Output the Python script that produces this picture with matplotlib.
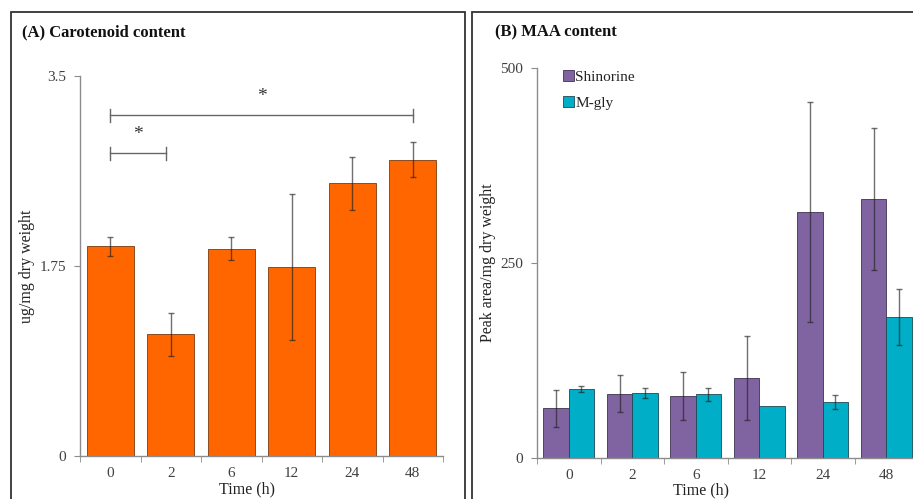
import matplotlib.pyplot as plt
from matplotlib.patches import Rectangle
import numpy as np

times = ["0", "2", "6", "12", "24", "48"]

carotenoid = [1.93, 1.12, 1.91, 1.74, 2.51, 2.73]
carotenoid_err = [0.085, 0.20, 0.105, 0.67, 0.245, 0.16]

shinorine = [63.7, 82.4, 79.5, 102.1, 315.4, 332.0]
shinorine_err = [23.5, 24.0, 31.0, 54.0, 141.6, 91.0]
mgly = [88.0, 83.8, 81.6, 66.2, 71.8, 180.8]
mgly_err = [3.7, 6.5, 8.5, 0.0, 8.5, 36.5]

# significance brackets: (start, end, bracket height, label)
brackets = [(0, 5, 3.14, "*"), (0, 0.92, 2.79, "*")]

plt.rcParams['font.family'] = ['Liberation Serif', 'DejaVu Serif']
txt = '#404040'
spine = '#8c8c8c'

fig = plt.figure(figsize=(9.13, 4.99), dpi=100)

# panel frames
W, H = 913.0, 499.0
fig.patches.append(Rectangle((11 / W, -0.1), (465 - 11) / W, 1.1 - 12 / H,
                             transform=fig.transFigure, fill=False,
                             edgecolor='#333333', lw=1.3))
fig.patches.append(Rectangle((472 / W, -0.1), 0.6, 1.1 - 12 / H,
                             transform=fig.transFigure, fill=False,
                             edgecolor='#333333', lw=1.3))


def style_axes(ax, ymax, yticks, yticklabels):
    for s in ['top', 'right']:
        ax.spines[s].set_visible(False)
    for s in ['left', 'bottom']:
        ax.spines[s].set_color(spine)
        ax.spines[s].set_linewidth(1.0)
    ax.set_xlim(-0.5, 5.5)
    ax.set_ylim(0, ymax)
    ax.set_yticks(yticks)
    ax.set_yticklabels(yticklabels)
    ax.set_xticks(np.arange(6))
    ax.set_xticklabels(times)
    ax.set_xticks(np.arange(-0.5, 6, 1), minor=True)
    ax.tick_params(axis='x', which='major', length=0, pad=8, labelsize=11, labelcolor=txt)
    ax.tick_params(axis='x', which='minor', length=4, color=spine)
    ax.tick_params(axis='y', length=4, color=spine, labelsize=11, labelcolor=txt, pad=6)


def draw_err(ax, xs, ys, errs):
    keep = [i for i, e in enumerate(errs) if e > 0]
    ax.errorbar([xs[i] for i in keep], [ys[i] for i in keep],
                yerr=[errs[i] for i in keep], fmt='none', ecolor='#222222',
                alpha=0.65, elinewidth=1.0, capsize=2.5, capthick=1.0)


# (A)
ax1 = fig.add_axes([80 / W, 1 - 456 / H, 363 / W, 380 / H])
x = np.arange(len(times))
ax1.bar(x, carotenoid, width=0.77, color='#FF6600', edgecolor='#7a3a10', linewidth=0.6)
draw_err(ax1, x, carotenoid, carotenoid_err)
style_axes(ax1, 3.5, [0, 1.75, 3.5], ["0", "1.75", "3.5"])
for x0, x1, yb, lab in brackets:
    ax1.plot([x0, x1], [yb, yb], color='#666666', lw=1.0)
    ax1.plot([x0, x0], [yb - 0.06, yb + 0.06], color='#666666', lw=1.0)
    ax1.plot([x1, x1], [yb - 0.06, yb + 0.06], color='#666666', lw=1.0)
    ax1.text((x0 + x1) / 2, yb + 0.17, lab, ha='center', va='center',
             fontsize=14, color='#333333')
ax1.set_ylabel("ug/mg dry weight", fontsize=11.5, color='#222222')
ax1.yaxis.set_label_coords(-45 / 363, 0.5)
ax1.set_xlabel("Time (h)", fontsize=11.5, color='#222222')
ax1.xaxis.set_label_coords(0.46, -0.066)
fig.text(22 / W, 1 - 32 / H, "(A) Carotenoid content", fontsize=12,
         fontweight='bold', va='center', ha='left', color='#111111')

# (B)
ax2 = fig.add_axes([537 / W, 1 - 458 / H, 381 / W, 390 / H])
w = 0.4
ax2.bar(x - w / 2, shinorine, width=w, color='#8064A2', edgecolor='#3f3150',
        linewidth=0.6, label="Shinorine")
ax2.bar(x + w / 2, mgly, width=w, color='#00AEC7', edgecolor='#1d4a55',
        linewidth=0.6, label="M-gly")
draw_err(ax2, x - w / 2, shinorine, shinorine_err)
draw_err(ax2, x + w / 2, mgly, mgly_err)
style_axes(ax2, 500, [0, 250, 500], ["0", "250", "500"])
ax2.set_ylabel("Peak area/mg dry weight", fontsize=11.5, color='#222222')
ax2.yaxis.set_label_coords(-41 / 381, 0.5)
ax2.set_xlabel("Time (h)", fontsize=11.5, color='#222222')
ax2.xaxis.set_label_coords(0.43, -0.062)
ax2.legend(loc='upper left', bbox_to_anchor=(0.031, 1.03), frameon=False,
           handlelength=0.75, handleheight=0.75, handletextpad=0.08,
           labelspacing=0.8, fontsize=11, labelcolor='#222222')
fig.text(495 / W, 1 - 32 / H, "(B) MAA content", fontsize=12,
         fontweight='bold', va='center', ha='left', color='#111111')

fig.savefig("out.png", dpi=100)
